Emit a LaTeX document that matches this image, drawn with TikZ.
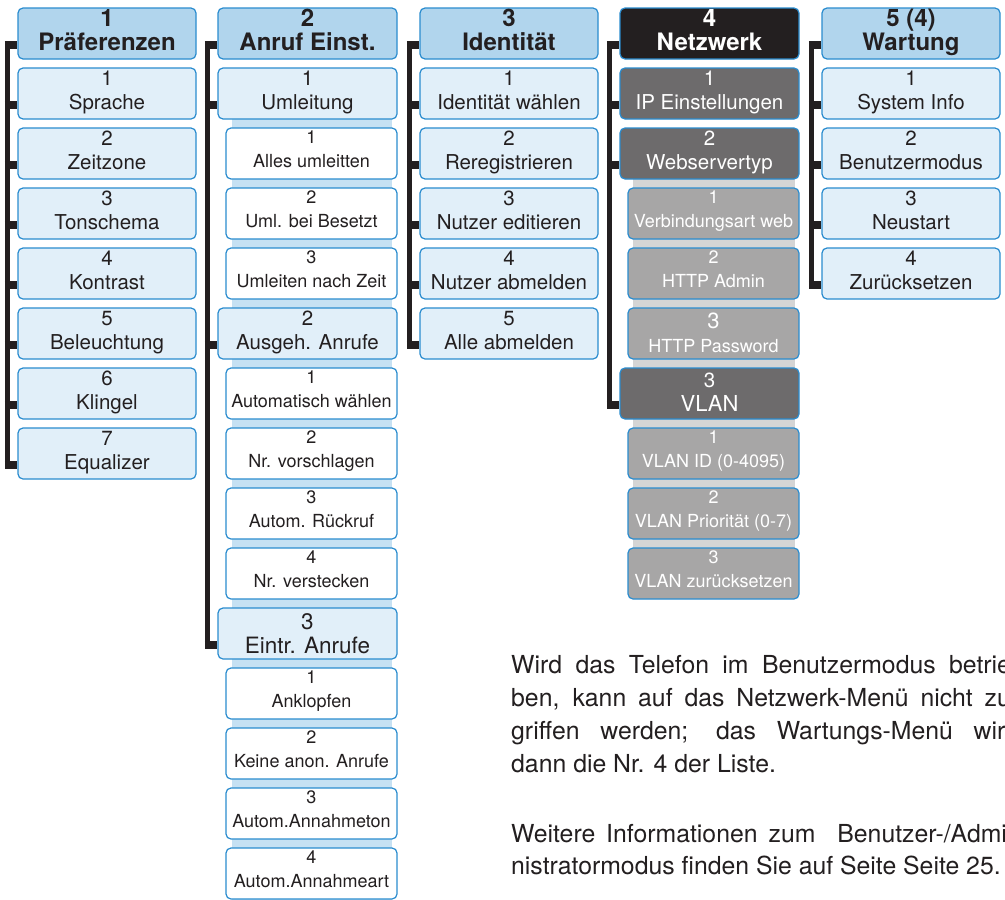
\documentclass[tikz,border=0pt]{standalone}
\usepackage{fontspec}
\setmainfont{TeX Gyre Heros}
\definecolor{boxblue}{HTML}{2A8CCF}
\definecolor{hdrfill}{HTML}{B1D5ED}
\definecolor{itemfill}{HTML}{E1EFF9}
\definecolor{stripblue}{HTML}{C6E1F3}
\definecolor{netblack}{HTML}{231F20}
\definecolor{netdark}{HTML}{6D6B6C}
\definecolor{netlight}{HTML}{A7A6A6}
\definecolor{stripgray}{HTML}{D5D5D5}
\definecolor{textdark}{HTML}{231F20}
\definecolor{barblack}{HTML}{231F20}
\tikzset{
  mbox/.style={draw=boxblue, line width=1.2pt, rounded corners=5pt, minimum height=51pt, inner sep=0pt},
  hdrbox/.style={mbox, fill=hdrfill},
  itembox/.style={mbox, fill=itemfill},
  subbox/.style={mbox, fill=white},
  nethdr/.style={mbox, fill=netblack},
  netitem/.style={mbox, fill=netdark},
  netsub/.style={mbox, fill=netlight},
  htxt/.style={inner sep=0pt, text=textdark, font=\fontsize{24}{24}\selectfont\bfseries},
  itxt/.style={inner sep=0pt, text=textdark, font=\fontsize{20.5}{20.5}\selectfont},
  stxt/.style={inner sep=0pt, text=textdark, font=\fontsize{18}{18}\selectfont},
  nhtxt/.style={htxt, text=white},
  nitxt/.style={itxt, text=white},
  nstxt/.style={stxt, text=white},
  vbar/.style={draw=barblack, line width=5pt},
  hstub/.style={draw=barblack, line width=8pt},
  para/.style={anchor=base west, inner sep=0pt, text=textdark, font=\fontsize{24.8}{31}\selectfont},
}
% name, boxstyle, xleft, xright, row, textstyle, number, label, number-baseline offset
\newcommand\menubox[9]{%
  \node[#2, minimum width={#4-#3}] (#1) at ({(#3+#4)/2},{8+60*#5+25.5}) {};
  \node[#6, anchor=base] (#1-n) at ({(#3+#4)/2},{8+60*#5+#9}) {#7};
  \node[#6, anchor=base] (#1-t) at ({(#3+#4)/2},{8+60*#5+#9+24}) {#8};
}
\newcommand\treebar[2]{%
  \draw[vbar] ([xshift=-10pt,yshift=-11.5pt]#1.west) -- ([xshift=-10pt,yshift=-11.5pt]#2.west);
}
\newcommand\treestub[1]{%
  \draw[hstub] ([xshift=-12.5pt,yshift=-11.5pt]#1.west) -- ([yshift=-11.5pt]#1.west);
}
\newcommand\bigger[2]{{\fontsize{#1}{#1}\selectfont #2}}
\begin{document}
\begin{tikzpicture}[x=1pt,y=-1pt]
\useasboundingbox (0,0) rectangle (1005,900);
\clip (0,0) rectangle (1005,900);
\fill[white] (0,0) rectangle (1005,900);
% background strips
\fill[stripblue] (232,119) rectangle (392,308);
\fill[stripblue] (232,359) rectangle (392,608);
\fill[stripblue] (232,659) rectangle (392,900);
\fill[stripgray] (633,179) rectangle (795,368);
\fill[stripgray] (633,419) rectangle (795,599);
% column 1
\menubox{c1h}{hdrbox}{18}{196}{0}{htxt}{1}{Präferenzen}{18}
\menubox{c1a}{itembox}{18}{196}{1}{itxt}{1}{Sprache}{17}
\menubox{c1b}{itembox}{18}{196}{2}{itxt}{2}{Zeitzone}{17}
\menubox{c1c}{itembox}{18}{196}{3}{itxt}{3}{Tonschema}{17}
\menubox{c1d}{itembox}{18}{196}{4}{itxt}{4}{Kontrast}{17}
\menubox{c1e}{itembox}{18}{196}{5}{itxt}{5}{Beleuchtung}{17}
\menubox{c1f}{itembox}{18}{196}{6}{itxt}{6}{Klingel}{17}
\menubox{c1g}{itembox}{18}{196}{7}{itxt}{7}{Equalizer}{17}
% column 2
\menubox{c2h}{hdrbox}{218}{397}{0}{htxt}{2}{Anruf Einst.}{18}
\menubox{c2a}{itembox}{218}{397}{1}{itxt}{1}{Umleitung}{17}
\menubox{c2a1}{subbox}{226}{397}{2}{stxt}{1}{Alles umleitten}{15}
\menubox{c2a2}{subbox}{226}{397}{3}{stxt}{2}{Uml. bei Besetzt}{15}
\menubox{c2a3}{subbox}{226}{397}{4}{stxt}{3}{Umleiten nach Zeit}{15}
\menubox{c2b}{itembox}{218}{397}{5}{itxt}{2}{Ausgeh. Anrufe}{17}
\menubox{c2b1}{subbox}{226}{397}{6}{stxt}{1}{Automatisch wählen}{15}
\menubox{c2b2}{subbox}{226}{397}{7}{stxt}{2}{Nr. vorschlagen}{15}
\menubox{c2b3}{subbox}{226}{397}{8}{stxt}{3}{Autom. Rückruf}{15}
\menubox{c2b4}{subbox}{226}{397}{9}{stxt}{4}{Nr. verstecken}{15}
\menubox{c2c}{itembox}{218}{397}{10}{itxt}{\bigger{22.5}{3}}{\bigger{22.5}{Eintr. Anrufe}}{21}
\menubox{c2c1}{subbox}{226}{397}{11}{stxt}{1}{Anklopfen}{15}
\menubox{c2c2}{subbox}{226}{397}{12}{stxt}{2}{Keine anon. Anrufe}{15}
\menubox{c2c3}{subbox}{226}{397}{13}{stxt}{3}{Autom.Annahmeton}{15}
\menubox{c2c4}{subbox}{226}{397}{14}{stxt}{4}{Autom.Annahmeart}{15}
% column 3
\menubox{c3h}{hdrbox}{420}{598}{0}{htxt}{3}{Identität}{18}
\menubox{c3a}{itembox}{420}{598}{1}{itxt}{1}{Identität wählen}{17}
\menubox{c3b}{itembox}{420}{598}{2}{itxt}{2}{Reregistrieren}{17}
\menubox{c3c}{itembox}{420}{598}{3}{itxt}{3}{Nutzer editieren}{17}
\menubox{c3d}{itembox}{420}{598}{4}{itxt}{4}{Nutzer abmelden}{17}
\menubox{c3e}{itembox}{420}{598}{5}{itxt}{5}{Alle abmelden}{17}
% column 4
\menubox{c4h}{nethdr}{620}{799}{0}{nhtxt}{4}{Netzwerk}{18}
\menubox{c4a}{netitem}{620}{799}{1}{nitxt}{1}{IP Einstellungen}{17}
\menubox{c4b}{netitem}{620}{799}{2}{nitxt}{2}{Webservertyp}{17}
\menubox{c4b1}{netsub}{628}{799}{3}{nstxt}{1}{Verbindungsart web}{15}
\menubox{c4b2}{netsub}{628}{799}{4}{nstxt}{2}{HTTP Admin}{15}
\menubox{c4b3}{netsub}{628}{799}{5}{nstxt}{\bigger{22}{3}}{HTTP Password}{20}
\menubox{c4c}{netitem}{620}{799}{6}{nitxt}{3}{\bigger{22}{VLAN}}{19}
\menubox{c4c1}{netsub}{628}{799}{7}{nstxt}{1}{VLAN ID (0-4095)}{15}
\menubox{c4c2}{netsub}{628}{799}{8}{nstxt}{2}{VLAN Priorität (0-7)}{15}
\menubox{c4c3}{netsub}{628}{799}{9}{nstxt}{3}{VLAN zurücksetzen}{15}
% column 5
\menubox{c5h}{hdrbox}{822}{1000}{0}{htxt}{5 (4)}{Wartung}{18}
\menubox{c5a}{itembox}{822}{1000}{1}{itxt}{1}{System Info}{17}
\menubox{c5b}{itembox}{822}{1000}{2}{itxt}{2}{Benutzermodus}{17}
\menubox{c5c}{itembox}{822}{1000}{3}{itxt}{3}{Neustart}{17}
\menubox{c5d}{itembox}{822}{1000}{4}{itxt}{4}{Zurücksetzen}{17}
% tree connectors
\treebar{c1h}{c1g}
\foreach \n in {c1h,c1a,c1b,c1c,c1d,c1e,c1f,c1g} {\treestub{\n}}
\treebar{c2h}{c2c}
\foreach \n in {c2h,c2a,c2b,c2c} {\treestub{\n}}
\treebar{c3h}{c3e}
\foreach \n in {c3h,c3a,c3b,c3c,c3d,c3e} {\treestub{\n}}
\treebar{c4h}{c4c}
\foreach \n in {c4h,c4a,c4b,c4c} {\treestub{\n}}
\treebar{c5h}{c5d}
\foreach \n in {c5h,c5a,c5b,c5c,c5d} {\treestub{\n}}
% text
\node[para] (p1) at (511,673) {\makebox[508pt][s]{Wird das Telefon im Benutzermodus betrie-}};
\node[para] (p2) at (511,706) {\makebox[508pt][s]{ben, kann auf das Netzwerk-Menü nicht zu-}};
\node[para] (p3) at (511,739) {\makebox[508pt][s]{griffen werden; das Wartungs-Menü wird}};
\node[para] (p4) at (511,772) {dann die Nr. 4 der Liste.};
\node[para] (p5) at (511,842) {\makebox[504pt][s]{Weitere Informationen zum\ \ Benutzer-/Admi-}};
\node[para] (p6) at (511,874) {nistratormodus finden Sie auf Seite Seite 25.};
\end{tikzpicture}
\end{document}
